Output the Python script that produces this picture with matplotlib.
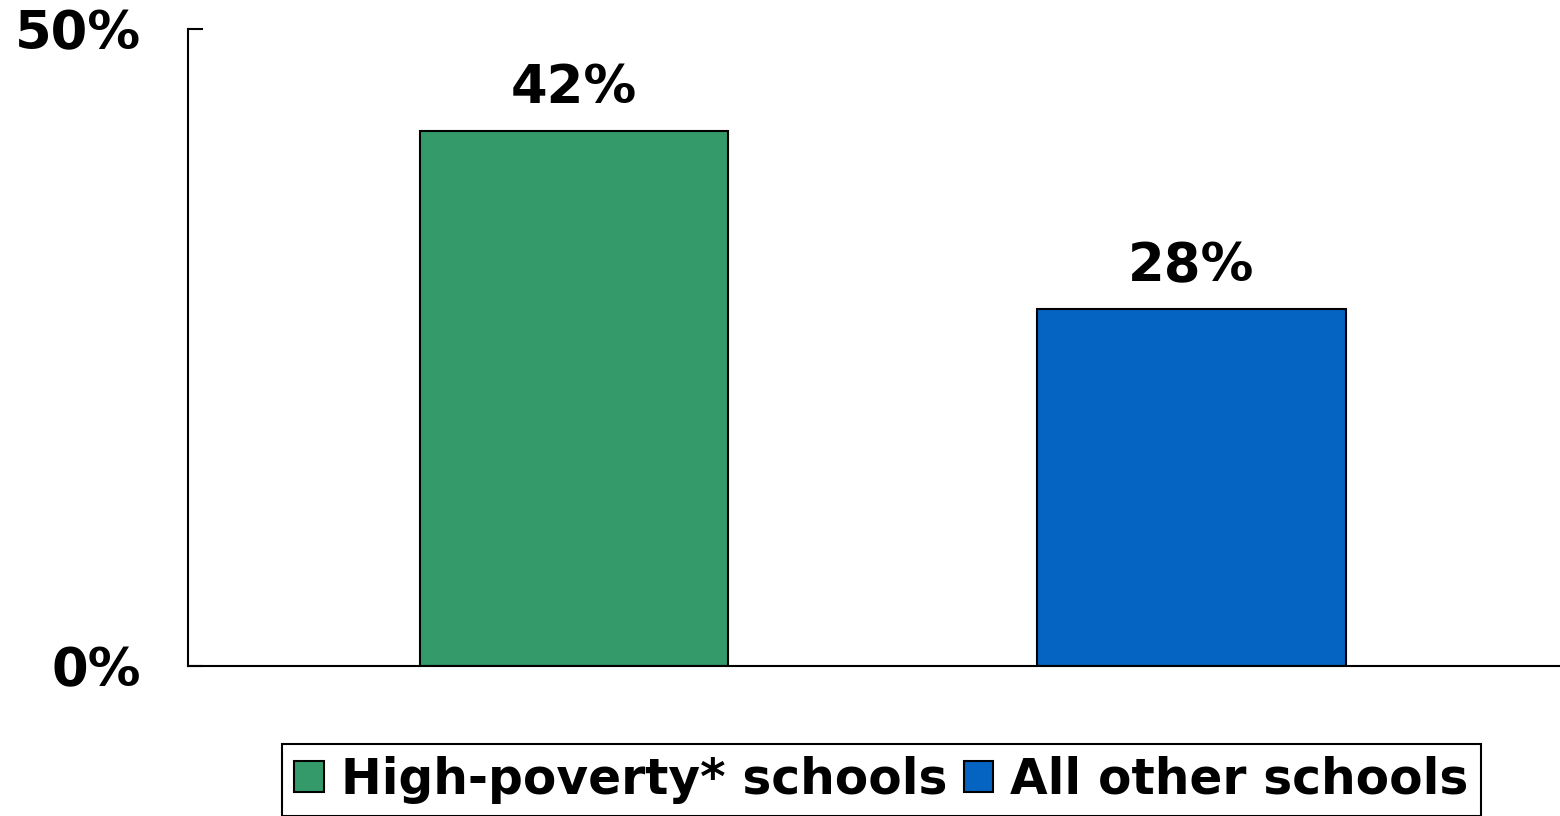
import matplotlib
matplotlib.use("Agg")
import matplotlib.pyplot as plt

categories = ["High-poverty* schools", "All other schools"]
values = [42, 28]
colors = ["#359A69", "#0564C1"]
yticks = [0, 50]
ytick_labels = ["0%", "50%"]

plt.rcParams['font.family'] = ['DejaVu Sans']
plt.rcParams['font.weight'] = 'bold'

FS = 38
LFS = 35

fig = plt.figure(figsize=(15.6, 8.16), dpi=100)
ax = fig.add_axes([188/1560, 1-666/816, 1-188/1560, (666-29)/816])

x = list(range(len(categories)))
bars = ax.bar(x, values, width=0.5, color=colors, edgecolor="black", linewidth=1.5,
              label=categories)
for xi, v in zip(x, values):
    ax.annotate(f"{v}%", (xi, v), xytext=(0, 12), textcoords="offset points",
                ha="center", va="bottom", fontsize=FS, fontweight="bold")

ax.set_xlim(-0.625, 1.597)
ax.set_ylim(0, 50)
ax.set_yticks(yticks)
ax.set_yticklabels(ytick_labels, fontsize=FS, fontweight="bold")
ax.tick_params(axis="y", direction="in", length=11, width=1.5, pad=34)
ax.set_xticks([])
for s in ["top", "right"]:
    ax.spines[s].set_visible(False)
ax.spines["left"].set_linewidth(1.5)
ax.spines["bottom"].set_linewidth(1.5)

handles = [plt.Rectangle((0, 0), 1, 1, facecolor=c, edgecolor="black", linewidth=1.5) for c in colors]
leg = fig.legend(handles, categories, loc="lower center", bbox_to_anchor=(881.5/1560, 0.0),
                 ncol=2, frameon=True, fancybox=False, edgecolor="black", framealpha=1,
                 prop={"size": LFS, "weight": "bold"}, handlelength=0.6, handleheight=0.6,
                 handletextpad=0.35, columnspacing=0.35, borderpad=0.25, borderaxespad=0.0)
leg.get_frame().set_linewidth(1.5)

fig.savefig("out.png", dpi=100)
